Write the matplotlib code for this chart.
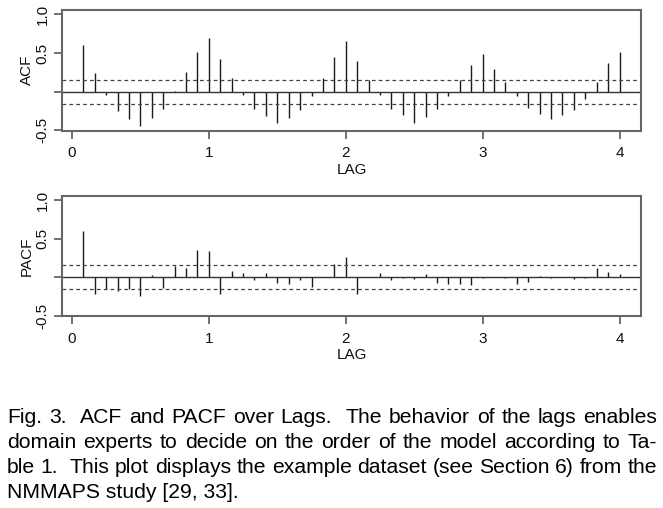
import numpy as np
import matplotlib
matplotlib.use("Agg")
from matplotlib import pyplot as plt

plt.rcParams['font.family'] = ['Liberation Sans', 'DejaVu Sans']

# lags are k/12 for k = 1..48
lag_k = np.arange(1, 49)
acf_vals = [0.61, 0.24, -0.05, -0.25, -0.36, -0.45, -0.34, -0.23, 0.01, 0.25,
            0.51, 0.69, 0.42, 0.17, -0.04, -0.22, -0.32, -0.41, -0.34, -0.24,
            -0.06, 0.18, 0.45, 0.655, 0.39, 0.15, -0.04, -0.22, -0.31, -0.41,
            -0.33, -0.23, -0.06, 0.15, 0.35, 0.49, 0.29, 0.125, -0.06, -0.21,
            -0.29, -0.36, -0.31, -0.24, -0.09, 0.13, 0.37, 0.51]
pacf_vals = [0.60, -0.21, -0.155, -0.18, -0.145, -0.24, 0.03, -0.14, 0.15, 0.12,
             0.36, 0.345, -0.22, 0.08, 0.055, -0.03, 0.055, -0.07, -0.08, -0.04,
             -0.13, 0.005, 0.17, 0.26, -0.22, 0.005, 0.05, -0.035, -0.01, -0.02,
             0.045, -0.07, -0.08, -0.08, -0.10, -0.01, 0.005, -0.01, -0.085, -0.055,
             0.02, -0.01, 0.005, -0.025, -0.01, 0.125, 0.07, 0.04]
conf = 0.155
xticks = [0, 1, 2, 3, 4]
yticks = [-0.5, 0.0, 0.5, 1.0]
ylabels = ["-0.5", "", "0.5", "1.0"]

caption = [
    "Fig. 3.  ACF and PACF over Lags.  The behavior of the lags enables",
    "domain experts to decide on the order of the model according to Ta-",
    "ble 1.  This plot displays the example dataset (see Section 6) from the",
    "NMMAPS study [29, 33].",
]

W, H = 663, 508
fig = plt.figure(figsize=(W / 100, H / 100), dpi=100)
boxcol = '#666666'

def panel(rect, vals, name):
    ax = fig.add_axes(rect)
    lags = lag_k / 12.0
    ax.vlines(lags, 0, vals, color='#1a1a1a', lw=1.0)
    ax.axhline(0, color='#333333', lw=1.0)
    for c in (conf, -conf):
        ax.axhline(c, color='#444444', lw=0.9, ls=(0, (3, 2.5)))
    ax.set_xlim(-0.073, 4.157)
    ax.set_ylim(-0.505, 1.058)
    ax.set_xticks(xticks)
    ax.set_xticklabels([str(t) for t in xticks])
    ax.set_yticks(yticks)
    ax.set_yticklabels(ylabels, rotation=90, va='center')
    for s in ax.spines.values():
        s.set_color(boxcol)
        s.set_linewidth(1.5)
    ax.tick_params(axis='both', colors=boxcol, labelcolor='#111111',
                   labelsize=11, length=6, width=1.3)
    ax.tick_params(axis='x', pad=5)
    ax.tick_params(axis='y', pad=3)
    ax.set_xlabel("LAG", fontsize=11, labelpad=2, color='#111111')
    ax.set_ylabel(name, fontsize=11, labelpad=1, color='#111111')
    return ax

panel([62 / W, 1 - 130.5 / H, 579 / W, 120.5 / H], acf_vals, "ACF")
panel([62 / W, 1 - 316.3 / H, 579 / W, 120.6 / H], pacf_vals, "PACF")

# justified caption, font sized so line 2 fits with normal spacing
fig.canvas.draw()
rend = fig.canvas.get_renderer()
left, right = 7, 657
probe = fig.text(0, 0, caption[1], fontsize=13)
fs = 13 * (right - left) / probe.get_window_extent(rend).width * 0.975
probe.remove()
baselines = [423, 448, 473, 498]
for i, line in enumerate(caption):
    y = 1 - baselines[i] / H
    if i == len(caption) - 1:
        fig.text(left / W, y, line, fontsize=fs, va='baseline', ha='left')
        continue
    parts = line.split(' ')
    words, gaps = [], []
    w_extra = 1
    for p in parts:
        if p == '':
            w_extra += 1
            continue
        if words:
            gaps.append(w_extra)
        words.append(p)
        w_extra = 1
    arts = [fig.text(0, y, wd, fontsize=fs, va='baseline', ha='left') for wd in words]
    widths = [a.get_window_extent(rend).width for a in arts]
    space = (right - left - sum(widths)) / sum(gaps)
    x = left
    for j, a in enumerate(arts):
        a.set_x(x / W)
        x += widths[j]
        if j < len(gaps):
            x += gaps[j] * space

fig.savefig("out.png", dpi=100)
